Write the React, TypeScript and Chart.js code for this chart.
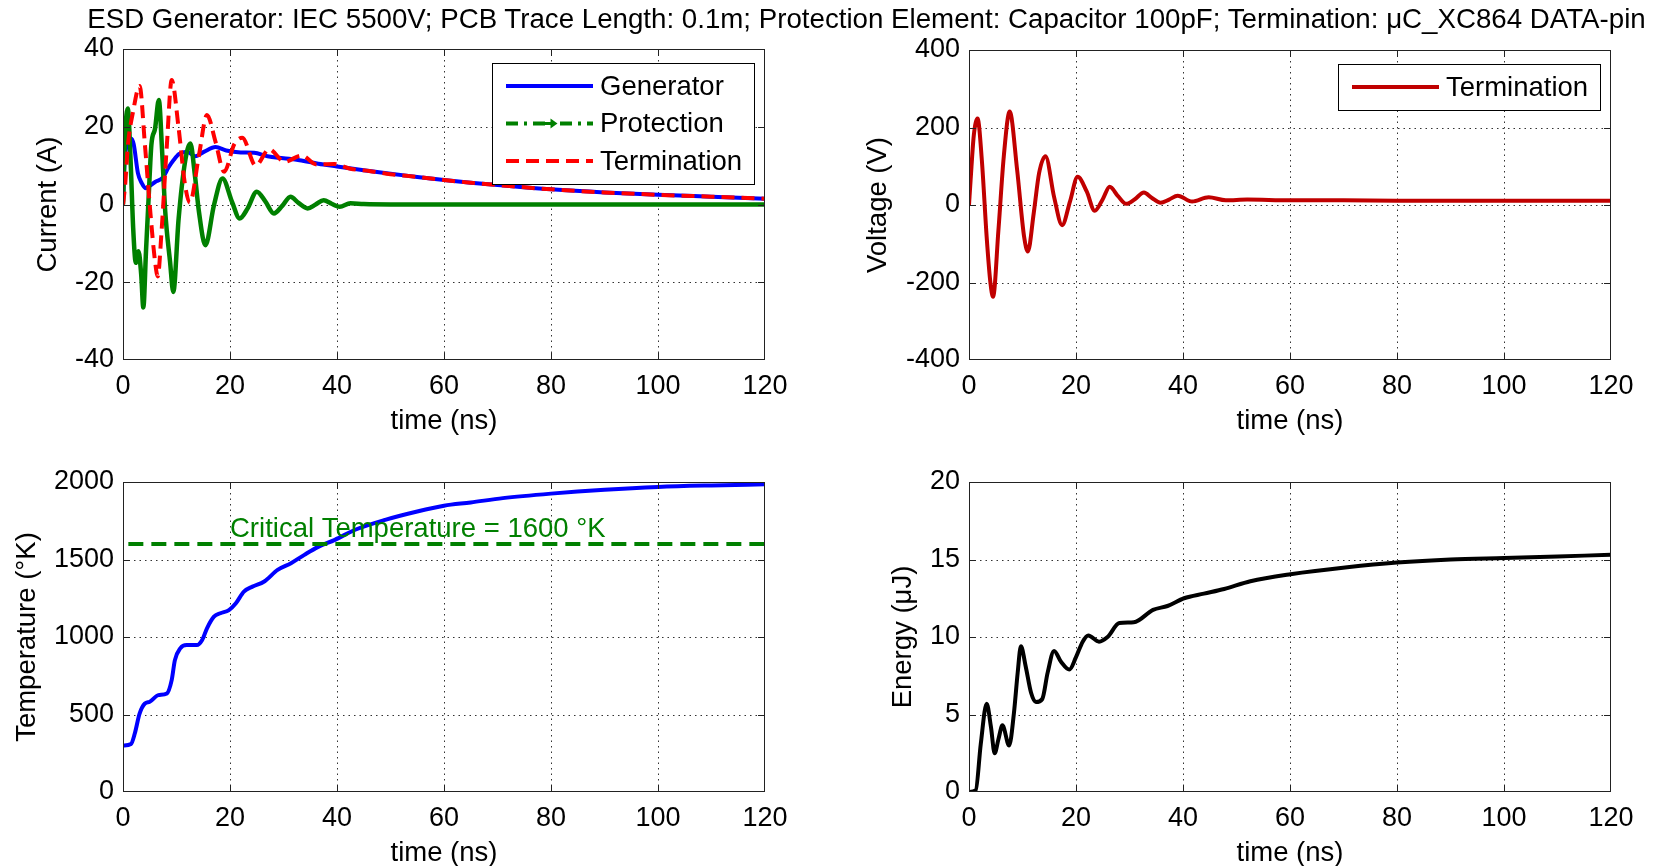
import React, { useEffect, useRef } from 'react';
import { Chart, registerables } from 'chart.js';

Chart.register(...registerables);

const FONT = '"Liberation Sans", Arial, Helvetica, sans-serif';

// ---------- tick labels ----------
const timeTicks = [0, 20, 40, 60, 80, 100, 120];
const currentTicks = [-40, -20, 0, 20, 40];
const voltageTicks = [-400, -200, 0, 200, 400];
const temperatureTicks = [0, 500, 1000, 1500, 2000];
const energyTicks = [0, 5, 10, 15, 20];

// ---------- text ----------
const figureTitle =
  'ESD Generator: IEC 5500V; PCB Trace Length: 0.1m; Protection Element: Capacitor 100pF; Termination: μC_XC864 DATA-pin';
const timeLabel = 'time (ns)';
const currentLabel = 'Current (A)';
const voltageLabel = 'Voltage (V)';
const temperatureLabel = 'Temperature (°K)';
const energyLabel = 'Energy (μJ)';
const criticalTemperature = 1600;
const criticalLabel = 'Critical Temperature = 1600 °K';
const criticalLabelAt = 20;

// ---------- series: currents (A) ----------
const generatorTime = [0, 0.3, 0.8, 1.5, 2.0, 2.8, 3.5, 4.2, 5, 6, 7.5, 8.5, 9.5, 10.5, 12, 13.5, 15.2, 17.3, 19.3, 22, 24.5, 27, 30, 33, 36.5, 40, 45, 50, 55, 60, 65, 70, 80, 90, 100, 110, 120];
const generatorCurrent = [0, 11, 15.5, 17, 15.5, 8, 5.5, 4.2, 4.8, 5.8, 7, 9.5, 11.5, 13, 13.6, 12.4, 13.6, 14.8, 13.9, 13.4, 13.3, 12.4, 11.9, 11.4, 10.5, 9.8, 8.8, 7.9, 7.1, 6.3, 5.6, 5.0, 3.9, 3.1, 2.5, 2.0, 1.5];

const protectionTime = [0, 0.4, 0.9, 1.4, 1.9, 2.4, 2.9, 3.4, 3.8, 4.3, 4.8, 5.3, 6.0, 6.7, 7.3, 7.9, 8.8, 9.4, 10.4, 11.6, 12.6, 13.4, 14.2, 15.4, 17.0, 18.6, 20.4, 21.8, 23.3, 25.0, 26.6, 28.2, 29.8, 31.3, 32.8, 34.5, 36.0, 37.5, 39.0, 40.5, 42.5, 45, 50, 60, 80, 100, 120];
const protectionCurrent = [0, 18, 24.7, 12, -6, -15, -12, -18, -26.5, -12, 2, 15.3, 19.6, 26.9, 14, -1.9, -14.8, -22.5, -3.6, 11, 15.7, 8, -1.9, -10.5, -0.2, 6.7, 0.6, -3.6, -1, 3.3, 0.8, -2.3, -0.3, 2.0, 0.4, -1.0, 0, 1.1, 0.2, -0.6, 0.3, 0.1, 0, 0, 0, 0, 0];

const terminationTime = [0, 0.4, 0.9, 1.9, 3.1, 4.1, 5.0, 6.0, 6.5, 7.2, 8.2, 9.1, 10.4, 11.6, 12.5, 14.2, 15.7, 17.3, 18.9, 20.8, 22.3, 24.8, 27.3, 30.2, 33.4, 36.2, 39.5, 42.5, 46, 50, 55, 60, 65, 70, 80, 90, 100, 110, 120];
const terminationCurrent = [0, 5, 15, 24, 30.5, 15.3, -0.2, -14.8, -18.5, -7, 15.3, 32, 19.6, 5, 0.5, 12.7, 23, 16.1, 8.4, 15.5, 17.2, 10, 14.2, 11, 12.6, 10.3, 10.4, 9.2, 8.6, 7.8, 7.1, 6.3, 5.6, 5.0, 3.9, 3.1, 2.5, 2.0, 1.5];

// ---------- series: termination voltage (V) ----------
const voltageTime = [0, 0.3, 0.9, 1.6, 2.4, 3.3, 4.0, 4.5, 5.5, 6.5, 7.6, 9.0, 10.3, 11.0, 12.1, 13.1, 14.3, 15.9, 17.4, 18.9, 20.3, 22.0, 23.5, 25.0, 26.3, 27.9, 29.4, 31.0, 32.7, 34.2, 35.8, 37.4, 39.0, 41.7, 44.8, 48, 52, 60, 70, 80, 90, 100, 110, 120];
const terminationVoltage = [0, 64, 180, 223, 116, -82, -200, -237, -65, 125, 241, 90, -82, -120, -21, 82, 126, 21, -52, 10, 73, 35, -15, 15, 47, 22, 3, 15, 32, 18, 6, 14, 24, 9, 20, 12, 14, 12, 12, 11, 11, 11, 11, 11];

// ---------- series: temperature (°K) ----------
const temperatureTime = [0, 1.5, 2.2, 3.1, 4.1, 5, 6.6, 8.2, 9.1, 9.7, 10.7, 11.9, 13.8, 14.8, 15.7, 17, 18.2, 19.8, 21.1, 22.6, 24.2, 26.4, 28.9, 31.4, 33.9, 36.4, 39.6, 43.4, 49, 55, 60, 65, 71, 80, 90, 100, 110, 120];
const temperatureValue = [300, 310, 377, 506, 571, 582, 625, 636, 722, 851, 927, 948, 948, 981, 1056, 1131, 1153, 1174, 1218, 1293, 1325, 1358, 1433, 1476, 1530, 1580, 1627, 1692, 1756, 1810, 1847, 1868, 1896, 1925, 1950, 1968, 1978, 1985];

// ---------- series: energy (μJ) ----------
const energyTime = [0, 1.25, 2.2, 3.3, 4.1, 4.8, 5.5, 6.25, 7.5, 8.4, 9.1, 9.7, 10.6, 11.6, 12.5, 13.7, 14.7, 15.9, 17.2, 18.75, 20, 21.25, 22.3, 24.3, 25.9, 28.1, 30.8, 34.4, 37.1, 40.2, 43.9, 47.7, 52.6, 60.1, 70.7, 80, 90, 100, 110, 120];
const energyValue = [0, 0.1, 3.1, 5.7, 4.2, 2.5, 3.4, 4.3, 3.0, 5.1, 7.7, 9.4, 8.1, 6.4, 5.8, 6.0, 7.7, 9.1, 8.4, 7.9, 8.7, 9.7, 10.1, 9.7, 10.0, 10.9, 10.95, 11.75, 12.0, 12.5, 12.8, 13.1, 13.6, 14.05, 14.5, 14.8, 15.0, 15.1, 15.2, 15.3];

// ---------- styles ----------
const BLUE = '#0000ff';
const GREEN = '#008000';
const RED = '#ff0000';
const DARK_RED = '#c00000';
const BLACK = '#000000';

const TITLE_SIZE = 27.5;
const TICK_SIZE = 27;
const LEGEND_SIZE = 27.5;
const FIGURE_TITLE_SIZE = 27.7;

type Rect = { x: number; y: number; w: number; h: number };
type Area = { l: number; t: number; r: number; b: number };

function series(label: string, t: number[], v: number[], color: string, width: number, dash: number[], order: number) {
  return {
    label,
    data: t.map((x, i) => ({ x, y: v[i] })),
    borderColor: color,
    backgroundColor: color,
    borderWidth: width,
    borderDash: dash,
    pointRadius: 0,
    pointHoverRadius: 0,
    cubicInterpolationMode: 'monotone',
    fill: false,
    order,
    borderJoinStyle: 'round',
  };
}

function strokeLine(ctx: CanvasRenderingContext2D, x1: number, y1: number, x2: number, y2: number) {
  ctx.beginPath();
  ctx.moveTo(x1, y1);
  ctx.lineTo(x2, y2);
  ctx.stroke();
}

const matlabAxes = {
  id: 'matlabAxes',
  beforeDatasetsDraw(chart: any, _args: any, opts: any) {
    const { ctx, chartArea: a, scales } = chart;
    const xs = scales.x;
    const ys = scales.y;
    ctx.save();
    ctx.strokeStyle = '#333';
    ctx.lineWidth = 1;
    ctx.setLineDash([1.5, 4]);
    for (const v of opts.xTicks) {
      const px = Math.round(xs.getPixelForValue(v)) + 0.5;
      if (px <= a.left + 2 || px >= a.right - 2) continue;
      strokeLine(ctx, px, a.top, px, a.bottom);
    }
    for (const v of opts.yTicks) {
      const py = Math.round(ys.getPixelForValue(v)) + 0.5;
      if (py <= a.top + 2 || py >= a.bottom - 2) continue;
      strokeLine(ctx, a.left, py, a.right, py);
    }
    ctx.restore();
  },
  afterDatasetsDraw(chart: any, _args: any, opts: any) {
    const { ctx, chartArea: a, scales } = chart;
    const xs = scales.x;
    const ys = scales.y;
    ctx.save();
    // horizontal reference line with its label
    if (opts.hline) {
      const h = opts.hline;
      const py = ys.getPixelForValue(h.value);
      ctx.strokeStyle = h.color;
      ctx.lineWidth = h.width;
      ctx.setLineDash(h.dash);
      strokeLine(ctx, xs.getPixelForValue(h.from), py, xs.getPixelForValue(h.to), py);
      ctx.setLineDash([]);
      ctx.fillStyle = h.color;
      ctx.font = `${h.fontSize}px ${FONT}`;
      ctx.textAlign = 'left';
      ctx.textBaseline = 'alphabetic';
      ctx.fillText(h.text, xs.getPixelForValue(h.textAt), py - 7);
    }
    // frame
    ctx.setLineDash([]);
    ctx.strokeStyle = '#222';
    ctx.lineWidth = 1;
    ctx.strokeRect(a.left + 0.5, a.top + 0.5, a.right - a.left - 1, a.bottom - a.top - 1);
    // inner tick marks
    const tl = 7;
    for (const v of opts.xTicks) {
      const px = Math.round(xs.getPixelForValue(v)) + 0.5;
      if (px <= a.left + 2 || px >= a.right - 2) continue;
      strokeLine(ctx, px, a.bottom, px, a.bottom - tl);
      strokeLine(ctx, px, a.top, px, a.top + tl);
    }
    for (const v of opts.yTicks) {
      const py = Math.round(ys.getPixelForValue(v)) + 0.5;
      if (py <= a.top + 2 || py >= a.bottom - 2) continue;
      strokeLine(ctx, a.left, py, a.left + tl, py);
      strokeLine(ctx, a.right, py, a.right - tl, py);
    }
    // legend
    if (opts.legend) {
      const items = opts.legend;
      const bw = 262;
      const rowH = 37.5;
      const padY = 23;
      const bh = padY * 2 + (items.length - 1) * rowH;
      const bx = Math.round(a.right - 11 - bw);
      const by = Math.round(a.top + 14);
      ctx.fillStyle = '#fff';
      ctx.fillRect(bx, by, bw, bh);
      ctx.strokeStyle = '#000';
      ctx.lineWidth = 1;
      ctx.strokeRect(bx + 0.5, by + 0.5, bw, bh);
      items.forEach((it: any, i: number) => {
        const cy = by + padY + i * rowH;
        const x1 = bx + 14;
        const x2 = bx + 101;
        ctx.strokeStyle = it.color;
        ctx.lineWidth = it.width;
        ctx.setLineDash(it.dash);
        strokeLine(ctx, x1, cy, x2, cy);
        ctx.setLineDash([]);
        if (it.marker) {
          const mx = (x1 + x2) / 2;
          ctx.fillStyle = it.color;
          ctx.lineWidth = 3;
          strokeLine(ctx, mx - 6, cy, mx + 3, cy);
          ctx.beginPath();
          ctx.moveTo(mx + 8, cy);
          ctx.lineTo(mx + 1, cy - 5);
          ctx.lineTo(mx + 1, cy + 5);
          ctx.closePath();
          ctx.fill();
        }
        ctx.fillStyle = '#000';
        ctx.font = `${LEGEND_SIZE}px ${FONT}`;
        ctx.textAlign = 'left';
        ctx.textBaseline = 'middle';
        ctx.fillText(it.label, bx + 108, cy + 1);
      });
    }
    ctx.restore();
  },
};

type PanelSpec = {
  rect: Rect;
  area: Area;
  datasets: any[];
  yMin: number;
  yMax: number;
  yTicks: number[];
  yTitle: string;
  yTitleX: number;
  xTitleY: number;
  legend?: any[];
  hline?: any;
};

function buildConfig(spec: PanelSpec): any {
  const lh = TITLE_SIZE * 1.2;
  const xH = spec.xTitleY - spec.area.b + lh / 2;
  const yW = spec.area.l - spec.rect.x;
  const tickFont = { family: FONT, size: TICK_SIZE };
  const titleFont = { family: FONT, size: TITLE_SIZE };
  return {
    type: 'line',
    data: { datasets: spec.datasets },
    options: {
      animation: false,
      responsive: false,
      maintainAspectRatio: false,
      devicePixelRatio: 1,
      events: [],
      layout: {
        padding: {
          left: 0,
          top: spec.area.t - spec.rect.y,
          right: spec.rect.x + spec.rect.w - spec.area.r,
          bottom: spec.rect.y + spec.rect.h - spec.area.b - xH,
        },
      },
      plugins: {
        legend: { display: false },
        tooltip: { enabled: false },
        title: { display: false },
        matlabAxes: {
          xTicks: timeTicks,
          yTicks: spec.yTicks,
          legend: spec.legend || null,
          hline: spec.hline || null,
        },
      },
      scales: {
        x: {
          type: 'linear',
          position: 'bottom',
          min: 0,
          max: 120,
          afterBuildTicks: (s: any) => {
            s.ticks = timeTicks.map((value) => ({ value }));
          },
          afterFit: (s: any) => {
            s.height = xH;
          },
          ticks: {
            font: tickFont,
            color: '#000',
            padding: 10,
            maxRotation: 0,
            autoSkip: false,
            callback: (v: any) => String(v),
          },
          grid: { display: false, drawTicks: false },
          border: { display: false },
          title: {
            display: true,
            text: timeLabel,
            font: titleFont,
            color: '#000',
            padding: { top: 0, bottom: 0 },
          },
        },
        y: {
          type: 'linear',
          position: 'left',
          min: spec.yMin,
          max: spec.yMax,
          afterBuildTicks: (s: any) => {
            s.ticks = spec.yTicks.map((value) => ({ value }));
          },
          afterFit: (s: any) => {
            s.width = yW;
          },
          ticks: {
            font: tickFont,
            color: '#000',
            padding: 9,
            autoSkip: false,
            callback: (v: any) => String(v),
          },
          grid: { display: false, drawTicks: false },
          border: { display: false },
          title: {
            display: true,
            text: spec.yTitle,
            font: titleFont,
            color: '#000',
            padding: { top: spec.yTitleX - spec.rect.x - lh / 2, bottom: 0 },
          },
        },
      },
    },
    plugins: [matlabAxes],
  };
}

const topRow = { y: 18, h: 432 };
const bottomRow = { y: 452, h: 414 };
const leftCol = { x: 0, w: 830 };
const rightCol = { x: 830, w: 829 };

function makeSpecs(): PanelSpec[] {
  const gen = series('Generator', generatorTime, generatorCurrent, BLUE, 4, [], 2);
  const prot = series('Protection', protectionTime, protectionCurrent, GREEN, 4.5, [], 1);
  const term = series('Termination', terminationTime, terminationCurrent, RED, 4, [13, 7], 0);
  const volt = series('Termination', voltageTime, terminationVoltage, DARK_RED, 4, [], 0);
  const temp = series('Temperature', temperatureTime, temperatureValue, BLUE, 4, [], 0);
  const energy = series('Energy', energyTime, energyValue, BLACK, 4, [], 0);
  return [
    {
      rect: { x: leftCol.x, y: topRow.y, w: leftCol.w, h: topRow.h },
      area: { l: 123, t: 49, r: 765, b: 360 },
      datasets: [gen, prot, term],
      yMin: -40,
      yMax: 40,
      yTicks: currentTicks,
      yTitle: currentLabel,
      yTitleX: 48,
      xTitleY: 421,
      legend: [
        { label: 'Generator', color: BLUE, width: 4, dash: [] },
        { label: 'Protection', color: GREEN, width: 4, dash: [12, 6, 3, 6], marker: true },
        { label: 'Termination', color: RED, width: 4, dash: [13, 7] },
      ],
    },
    {
      rect: { x: rightCol.x, y: topRow.y, w: rightCol.w, h: topRow.h },
      area: { l: 969, t: 50, r: 1611, b: 360 },
      datasets: [volt],
      yMin: -400,
      yMax: 400,
      yTicks: voltageTicks,
      yTitle: voltageLabel,
      yTitleX: 878,
      xTitleY: 421,
      legend: [{ label: 'Termination', color: DARK_RED, width: 4, dash: [] }],
    },
    {
      rect: { x: leftCol.x, y: bottomRow.y, w: leftCol.w, h: bottomRow.h },
      area: { l: 123, t: 482, r: 765, b: 792 },
      datasets: [temp],
      yMin: 0,
      yMax: 2000,
      yTicks: temperatureTicks,
      yTitle: temperatureLabel,
      yTitleX: 27,
      xTitleY: 853,
      hline: {
        value: criticalTemperature,
        from: 1,
        to: 120,
        color: GREEN,
        width: 4,
        dash: [15, 8],
        text: criticalLabel,
        textAt: criticalLabelAt,
        fontSize: LEGEND_SIZE,
      },
    },
    {
      rect: { x: rightCol.x, y: bottomRow.y, w: rightCol.w, h: bottomRow.h },
      area: { l: 969, t: 482, r: 1611, b: 792 },
      datasets: [energy],
      yMin: 0,
      yMax: 20,
      yTicks: energyTicks,
      yTitle: energyLabel,
      yTitleX: 903,
      xTitleY: 853,
    },
  ];
}

const specs = makeSpecs();

export default function App() {
  const refs = [useRef<HTMLCanvasElement>(null), useRef<HTMLCanvasElement>(null), useRef<HTMLCanvasElement>(null), useRef<HTMLCanvasElement>(null)];

  useEffect(() => {
    const charts: Chart[] = [];
    specs.forEach((spec, i) => {
      const c = refs[i].current;
      if (c) charts.push(new Chart(c, buildConfig(spec)));
    });
    return () => {
      charts.forEach((ch) => ch.destroy());
    };
  }, []);

  return (
    <div style={{ position: 'fixed', left: 0, top: 0, width: 1659, height: 866, background: '#fff', overflow: 'hidden' }}>
      {specs.map((spec, i) => (
        <canvas
          key={i}
          ref={refs[i]}
          width={spec.rect.w}
          height={spec.rect.h}
          style={{ position: 'absolute', left: spec.rect.x, top: spec.rect.y, width: spec.rect.w, height: spec.rect.h }}
        />
      ))}
      <div
        style={{
          position: 'absolute',
          left: 37,
          top: 5,
          width: 1659,
          textAlign: 'center',
          fontFamily: FONT,
          fontSize: FIGURE_TITLE_SIZE,
          lineHeight: `${FIGURE_TITLE_SIZE}px`,
          whiteSpace: 'nowrap',
          color: '#000',
        }}
      >
        {figureTitle}
      </div>
    </div>
  );
}
